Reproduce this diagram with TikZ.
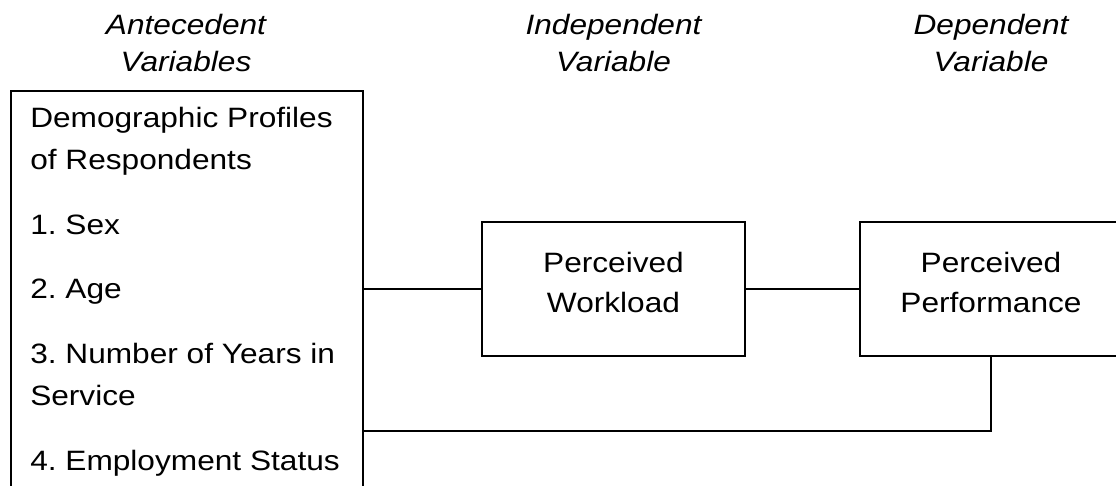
\documentclass[tikz,border=0pt]{standalone}
\usepackage{fontspec}
\setmainfont{Liberation Sans}[FakeStretch=1.13]
\usetikzlibrary{positioning}
\frenchspacing
\tikzset{
    varbox/.style={
           rectangle,
           draw=black,
           line width=1.4pt,
           minimum width=197pt,
           minimum height=101pt,
           inner sep=0pt,
           align=center,
           text depth=10pt,
           font=\fontsize{21pt}{30pt}\selectfont,
           },
    listbox/.style={
           rectangle,
           draw=black,
           line width=1.4pt,
           minimum width=264pt,
           minimum height=315pt,
           inner sep=0pt,
           },
    heading/.style={
           anchor=base,
           inner sep=0pt,
           align=center,
           font=\fontsize{21pt}{27.75pt}\selectfont\itshape,
           },
    link/.style={line width=1.4pt},
}

\begin{document}
\begin{tikzpicture}[x=0.75pt,y=-0.75pt]
\useasboundingbox (0,0) rectangle (1116,485);
% boxes
\node[listbox,anchor=north west](demo) at (10,90) {};
\node[anchor=base west,inner sep=0pt,align=left,
      font=\fontsize{21pt}{31.5pt}\selectfont](demolist) at (30,470){
  Demographic Profiles\\
  of Respondents\\[17pt]
  1. Sex\\[17pt]
  2. Age\\[17pt]
  3. Number of Years in\\
  Service\\[17pt]
  4. Employment Status
};
\node[varbox](work) at (613.5,289){Perceived\\Workload};
\node[varbox](perf) at (991,289){Perceived\\Performance};
% headings
\node[heading](antehead) at (186,71){Antecedent\\Variables};
\node[heading](indhead) at (work.center |- antehead.base){Independent\\Variable};
\node[heading](dephead) at (perf.center |- antehead.base){Dependent\\Variable};
% connectors
\coordinate (low) at (0,431);
\draw[link] (demo.east |- work.west) -- (work.west);
\draw[link] (work.east) -- (perf.west);
\draw[link] (perf.south) |- (demo.east |- low);
\end{tikzpicture}
\end{document}
